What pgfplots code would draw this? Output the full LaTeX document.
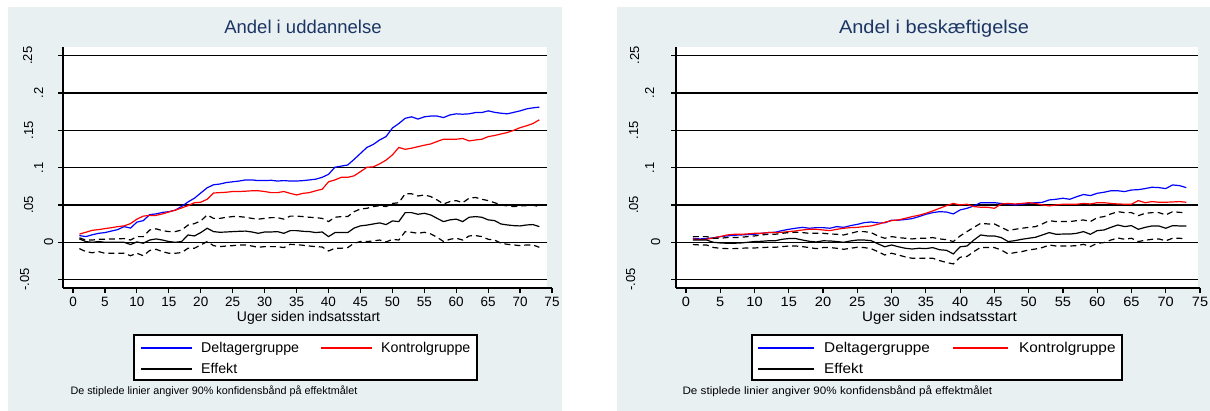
\documentclass[border=0pt]{standalone}
\usepackage{fontspec}
\setmainfont{Liberation Sans}
\newfontfamily\wide{Liberation Sans}[FakeStretch=1.08]
\usepackage{pgfplots}
\pgfplotsset{compat=1.18}
\usepackage{pgfplotstable}
\definecolor{bgc}{RGB}{232,240,242}
\definecolor{ttl}{RGB}{28,53,100}

\pgfplotstableread{
w D K E U L
1 0.009 0.011 0.0045 0.006 -0.0085
2 0.0076 0.0134 0.001 0.003 -0.0125
3 0.010 0.016 0.000 0.003 -0.014
4 0.012 0.017 0.001 0.004 -0.0125
5 0.013 0.0183 0.000 0.004 -0.0147
6 0.015 0.0195 0.000 0.0045 -0.0147
7 0.017 0.021 0.000 0.0045 -0.0147
8 0.021 0.022 0.000 0.005 -0.0147
9 0.019 0.025 -0.003 0.003 -0.018
10 0.027 0.031 0.0005 0.0076 -0.0147
11 0.029 0.035 -0.0013 0.0076 -0.018
12 0.037 0.036 0.003 0.0165 -0.011
13 0.038 0.036 0.0045 0.018 -0.0094
14 0.040 0.038 0.003 0.0156 -0.0125
15 0.041 0.0406 0.001 0.0143 -0.0147
16 0.043 0.043 0.000 0.0143 -0.0147
17 0.048 0.046 0.001 0.0165 -0.0138
18 0.054 0.049 0.0098 0.023 -0.008
19 0.059 0.053 0.0085 0.025 -0.008
20 0.066 0.0536 0.013 0.0286 -0.0036
21 0.073 0.0576 0.0188 0.0366 0.001
22 0.077 0.066 0.0143 0.032 -0.0045
23 0.078 0.0665 0.0134 0.032 -0.0058
24 0.080 0.067 0.0138 0.0335 -0.005
25 0.081 0.068 0.0143 0.0344 -0.0045
26 0.082 0.068 0.0147 0.0344 -0.0036
27 0.0835 0.0684 0.015 0.0335 -0.0036
28 0.0835 0.069 0.0138 0.032 -0.005
29 0.0826 0.069 0.012 0.031 -0.0067
30 0.0826 0.068 0.0138 0.032 -0.0058
31 0.083 0.0665 0.0138 0.033 -0.0058
32 0.082 0.0665 0.0143 0.033 -0.0058
33 0.0826 0.068 0.012 0.031 -0.0071
34 0.082 0.0655 0.0156 0.035 -0.0027
35 0.082 0.0634 0.0156 0.035 -0.0031
36 0.0826 0.0655 0.0147 0.0344 -0.004
37 0.0835 0.0665 0.0143 0.0335 -0.005
38 0.0845 0.069 0.013 0.033 -0.0058
39 0.087 0.071 0.0138 0.032 -0.0063
40 0.091 0.081 0.0076 0.0277 -0.0116
41 0.1005 0.0835 0.013 0.0335 -0.008
42 0.102 0.087 0.013 0.0344 -0.008
43 0.1035 0.087 0.013 0.0344 -0.0071
44 0.111 0.089 0.019 0.041 -0.0013
45 0.119 0.0946 0.022 0.0446 0.001
46 0.127 0.1004 0.023 0.0455 0.001
47 0.131 0.101 0.0245 0.0478 0.0018
48 0.137 0.105 0.026 0.049 0.003
49 0.1415 0.11 0.0237 0.0478 0.0004
50 0.153 0.117 0.0286 0.052 0.004
51 0.159 0.127 0.0277 0.053 0.003
52 0.166 0.1245 0.0397 0.065 0.0143
53 0.168 0.126 0.0397 0.065 0.0134
54 0.165 0.128 0.0375 0.062 0.012
55 0.168 0.130 0.0388 0.0634 0.0134
56 0.169 0.1317 0.0366 0.0612 0.0112
57 0.169 0.135 0.032 0.0567 0.0067
58 0.167 0.138 0.0277 0.0513 0.001
59 0.1705 0.138 0.030 0.0545 0.004
60 0.172 0.138 0.031 0.0558 0.0054
61 0.1715 0.139 0.0277 0.053 0.003
62 0.172 0.1357 0.0335 0.059 0.0085
63 0.1737 0.137 0.0344 0.060 0.009
64 0.1737 0.138 0.0335 0.0576 0.0076
65 0.176 0.1415 0.030 0.0558 0.004
66 0.174 0.143 0.029 0.053 0.003
67 0.1728 0.145 0.0245 0.050 -0.0013
68 0.172 0.147 0.0232 0.0487 -0.0027
69 0.174 0.150 0.0223 0.0478 -0.0036
70 0.176 0.1535 0.0219 0.0487 -0.0045
71 0.1786 0.156 0.0232 0.0491 -0.0036
72 0.180 0.159 0.0237 0.0496 -0.0036
73 0.181 0.164 0.021 0.0478 -0.0067
}\datL

\pgfplotstableread{
w D K E U L
1 0.0054 0.0045 0.003 0.0076 -0.003
2 0.0045 0.0036 0.003 0.0076 -0.0036
3 0.005 0.004 0.003 0.0076 -0.0036
4 0.006 0.0058 0.000 0.0054 -0.007
5 0.0076 0.0076 -0.0009 0.0054 -0.008
6 0.0085 0.0098 -0.0013 0.0063 -0.0085
7 0.0094 0.0107 -0.0013 0.0063 -0.0085
8 0.0098 0.0107 -0.0009 0.0067 -0.008
9 0.0103 0.0112 0.000 0.0076 -0.0076
10 0.0107 0.012 0.001 0.0085 -0.0076
11 0.012 0.012 0.0013 0.0098 -0.0071
12 0.013 0.013 0.002 0.0107 -0.0067
13 0.0134 0.013 0.002 0.0107 -0.0067
14 0.0156 0.0134 0.004 0.012 -0.0058
15 0.0174 0.0143 0.005 0.013 -0.005
16 0.0188 0.0152 0.005 0.0134 -0.005
17 0.020 0.0165 0.003 0.013 -0.0058
18 0.0188 0.0174 0.0013 0.012 -0.0071
19 0.0196 0.0174 0.0004 0.012 -0.0085
20 0.0196 0.0165 0.002 0.012 -0.0071
21 0.0188 0.0156 0.0018 0.0112 -0.0071
22 0.021 0.0174 0.001 0.0107 -0.008
23 0.020 0.0188 0.000 0.0098 -0.0094
24 0.0223 0.0196 0.0018 0.012 -0.008
25 0.024 0.020 0.003 0.0143 -0.0067
26 0.0263 0.0210 0.003 0.0143 -0.0071
27 0.0272 0.0219 0.0022 0.013 -0.0085
28 0.026 0.0241 -0.002 0.0085 -0.0125
29 0.026 0.0268 -0.006 0.0054 -0.017
30 0.0296 0.029 -0.0036 0.0076 -0.0147
31 0.0296 0.030 -0.006 0.0063 -0.017
32 0.0305 0.0321 -0.008 0.0054 -0.0196
33 0.0317 0.0344 -0.009 0.0045 -0.0214
34 0.0344 0.0362 -0.008 0.0054 -0.0214
35 0.0375 0.0388 -0.0085 0.0054 -0.0214
36 0.0397 0.0420 -0.0071 0.0063 -0.0214
37 0.041 0.0455 -0.010 0.0045 -0.0245
38 0.0405 0.049 -0.0107 0.0035 -0.027
39 0.038 0.052 -0.0156 0.001 -0.029
40 0.0433 0.050 -0.006 0.0085 -0.020
41 0.0455 0.051 -0.005 0.0143 -0.019
42 0.0487 0.0478 0.003 0.020 -0.0125
43 0.053 0.0469 0.0098 0.0254 -0.0067
44 0.053 0.0469 0.0085 0.0246 -0.0071
45 0.053 0.0455 0.0085 0.0246 -0.0071
46 0.052 0.0513 0.0063 0.020 -0.0103
47 0.0513 0.052 0.001 0.0156 -0.0156
48 0.050 0.0513 0.0022 0.0174 -0.0138
49 0.0509 0.052 0.004 0.0188 -0.0125
50 0.0522 0.053 0.0054 0.020 -0.0103
51 0.053 0.052 0.0067 0.021 -0.009
52 0.0535 0.050 0.0098 0.0246 -0.0071
53 0.0567 0.0487 0.013 0.029 -0.0036
54 0.0576 0.050 0.0107 0.0277 -0.005
55 0.059 0.051 0.011 0.0277 -0.005
56 0.0576 0.051 0.011 0.0277 -0.005
57 0.061 0.051 0.012 0.029 -0.0045
58 0.064 0.052 0.0143 0.0299 -0.0027
59 0.0625 0.0513 0.0107 0.0277 -0.0058
60 0.0656 0.053 0.0156 0.033 -0.0013
61 0.067 0.053 0.0165 0.0344 -0.0004
62 0.069 0.052 0.020 0.038 0.003
63 0.069 0.0513 0.0232 0.041 0.0058
64 0.0679 0.051 0.021 0.0397 0.004
65 0.070 0.051 0.0223 0.0397 0.0054
66 0.0705 0.0558 0.0174 0.0357 0.001
67 0.0719 0.053 0.020 0.0388 0.0027
68 0.0737 0.0545 0.0219 0.0397 0.004
69 0.0732 0.0536 0.0219 0.0397 0.0045
70 0.0719 0.0536 0.0188 0.0366 0.002
71 0.0768 0.054 0.0223 0.041 0.0054
72 0.0759 0.0545 0.0219 0.0401 0.0054
73 0.0732 0.0536 0.0219 0.0397 0.0045
}\datR

\newcommand{\yl}[2]{\raisebox{#1pt}[0pt][0pt]{#2}}

\pgfplotsset{
  mainax/.style={
    scale only axis, height=241pt,
    ymin=-0.0612, ymax=0.2615,
    axis x line=none, axis y line*=left,
    ytick={-0.05,0,0.05,0.1,0.15,0.2,0.25},
    ymajorgrids, grid style={black, line width=1.3pt},
    axis line style={black, line width=1.2pt},
    tick style={black, line width=1.2pt},
    tick align=outside, major tick length=5pt,
    axis background/.style={fill=white},
    yticklabel style={rotate=90, anchor=base, inner sep=0pt, font=\fontsize{13}{13}\selectfont},
  },
  xax/.style={
    scale only axis, height=241pt,
    ymin=-0.0612, ymax=0.2615,
    axis y line=none, axis x line*=bottom,
    xtick={0,5,...,75},
    axis line style={black, line width=1.2pt},
    tick style={black, line width=1.2pt},
    tick align=outside, major tick length=5pt,
    /pgf/number format/assume math mode=true,
    xticklabel style={anchor=base, inner sep=0pt, yshift=-13.5pt},
    xlabel={Uger siden indsatsstart},
    xlabel style={at={(0.5,0)}, anchor=base, inner sep=0pt, yshift=-34pt},
  },
  dl/.style={line width=1.2pt},
  dsh/.style={black, line width=1.2pt, dash pattern=on 6pt off 4pt},
}

\begin{document}
\begin{tikzpicture}[x=1pt,y=1pt]
\useasboundingbox (0,0) rectangle (1210,411);
\fill[white] (0,0) rectangle (1210,411);
\fill[bgc] (8,0) rectangle (562,404);
\fill[bgc] (617,0) rectangle (1210,404);

% ---------------- left panel ----------------
\begin{axis}[mainax, at={(63pt,123pt)}, anchor=south west, width=484pt,
  xmin=-1.57, xmax=74.2,
  yticklabels={{\yl{29}{-.05}},{\yl{5}{0}},{\yl{25}{.05}},{\yl{15}{.1}},{\yl{25}{.15}},{\yl{15}{.2}},{\yl{26}{.25}}},
  title={Andel i uddannelse},
  title style={at={(0.5,1)}, anchor=base, yshift=7pt, xshift=-2pt, font=\fontsize{18.5}{20}\selectfont, text=ttl},
]
\addplot[blue, dl] table[x=w,y=D]{\datL};
\addplot[red, dl] table[x=w,y=K]{\datL};
\addplot[black, dl] table[x=w,y=E]{\datL};
\addplot[dsh] table[x=w,y=U]{\datL};
\addplot[dsh] table[x=w,y=L]{\datL};
\end{axis}
\begin{axis}[xax, at={(63pt,123pt)}, anchor=south west, width=489pt,
  xmin=-1.57, xmax=75.0,
  xticklabel style={font=\fontsize{13.5}{15}\selectfont},
  xlabel style={font=\fontsize{14}{16}\selectfont, xshift=1pt},
]
\end{axis}
% legend (left)
\draw[black, line width=1.2pt, fill=white] (134,31) rectangle (477,76);
\draw[blue, line width=1.2pt] (141,63) -- (192,63);
\draw[red, line width=1.2pt] (321,63) -- (372,63);
\draw[black, line width=1.2pt] (141,42) -- (192,42);
\begin{scope}[every node/.style={anchor=base west, inner sep=0pt, font=\fontsize{14.2}{16}\selectfont}]
\node at (201,58) {Deltagergruppe};
\node at (381,58) {Kontrolgruppe};
\node at (201,37.5) {Effekt};
\end{scope}
\node[anchor=base west, font=\fontsize{10.8}{12}\selectfont] at (67,16) {De stiplede linier angiver 90\% konfidensbånd på effektmålet};

% ---------------- right panel ----------------
\begin{axis}[mainax, at={(676pt,123pt)}, anchor=south west, width=522pt,
  xmin=-1.459, xmax=74.71,
  yticklabels={{\yl{36}{-.05}},{\yl{11}{0}},{\yl{33}{.05}},{\yl{17}{.1}},{\yl{33}{.15}},{\yl{17}{.2}},{\yl{32}{.25}}},
  title={Andel i beskæftigelse},
  title style={at={(0.5,1)}, anchor=base, yshift=7pt, xshift=-3pt, font=\wide\fontsize{18.5}{20}\selectfont, text=ttl},
]
\addplot[blue, dl] table[x=w,y=D]{\datR};
\addplot[red, dl] table[x=w,y=K]{\datR};
\addplot[black, dl] table[x=w,y=E]{\datR};
\addplot[dsh] table[x=w,y=U]{\datR};
\addplot[dsh] table[x=w,y=L]{\datR};
\end{axis}
\begin{axis}[xax, at={(676pt,123pt)}, anchor=south west, width=524pt,
  xmin=-1.459, xmax=75.0,
  xticklabel style={font=\wide\fontsize{13.5}{15}\selectfont},
  xlabel style={font=\wide\fontsize{14}{16}\selectfont, xshift=1.5pt},
]
\end{axis}
% legend (right)
\draw[black, line width=1.2pt, fill=white] (752,31) rectangle (1122,76);
\draw[blue, line width=1.2pt] (758,63) -- (814,63);
\draw[red, line width=1.2pt] (953,63) -- (1008,63);
\draw[black, line width=1.2pt] (758,42) -- (814,42);
\begin{scope}[every node/.style={anchor=base west, inner sep=0pt, font=\wide\fontsize{14.2}{16}\selectfont}]
\node at (824,58) {Deltagergruppe};
\node at (1019,58) {Kontrolgruppe};
\node at (824,37.5) {Effekt};
\end{scope}
\node[anchor=base west, font=\wide\fontsize{10.8}{12}\selectfont] at (679,16) {De stiplede linier angiver 90\% konfidensbånd på effektmålet};
\end{tikzpicture}
\end{document}
